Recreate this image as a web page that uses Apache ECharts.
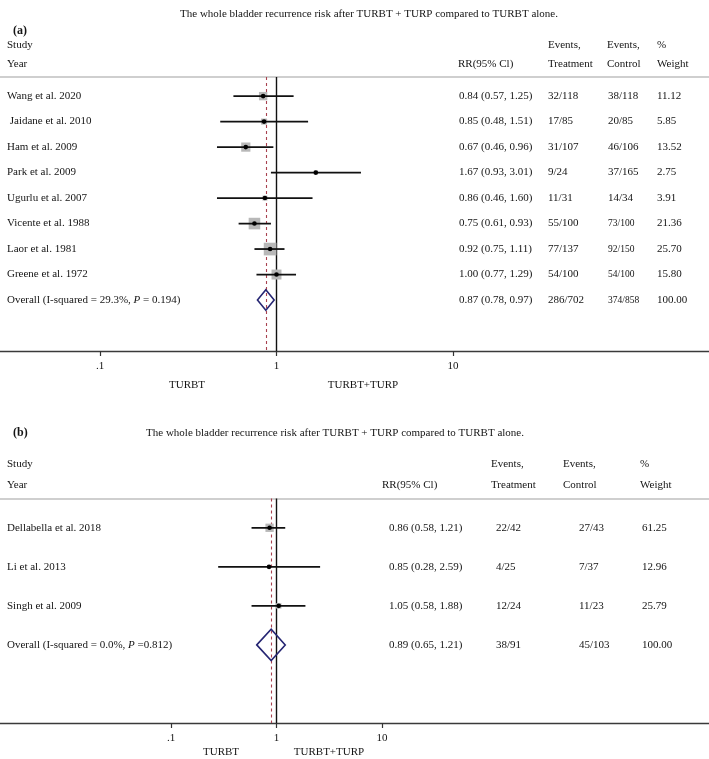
<!DOCTYPE html>
<html>
<head>
<meta charset="utf-8">
<script src="https://cdn.jsdelivr.net/npm/echarts@6/dist/echarts.min.js"></script>
<style>html,body{margin:0;padding:0;background:#fff;}#c{width:709px;height:759px;}</style>
</head>
<body>
<div id="c"></div>
<script>
// ---------- DATA ----------
const titleText = 'The whole bladder recurrence risk after TURBT + TURP compared to TURBT alone.';
const tickLabels = ['.1', '1', '10'];

// Panel (a)
const studiesA = ['Wang et al. 2020', ' Jaidane et al. 2010', 'Ham et al. 2009', 'Park et al. 2009', 'Ugurlu et al. 2007', 'Vicente et al. 1988', 'Laor et al. 1981', 'Greene et al. 1972'];
const rrA = [0.84, 0.85, 0.67, 1.67, 0.86, 0.75, 0.92, 1.00];
const loA = [0.57, 0.48, 0.46, 0.93, 0.46, 0.61, 0.75, 0.77];
const hiA = [1.25, 1.51, 0.96, 3.01, 1.60, 0.93, 1.11, 1.29];
const evTreatA = ['32/118', '17/85', '31/107', '9/24', '11/31', '55/100', '77/137', '54/100'];
const evCtrlA = ['38/118', '20/85', '46/106', '37/165', '14/34', '73/100', '92/150', '54/100'];
const weightA = [11.12, 5.85, 13.52, 2.75, 3.91, 21.36, 25.70, 15.80];
const overallLabelA = 'Overall (I-squared = 29.3%, {i|P} = 0.194)';
const overallA = [0.87, 0.78, 0.97];
const overallEvA = ['286/702', '374/858'];
const overallWeightA = 100;

// Panel (b)
const studiesB = ['Dellabella et al. 2018', 'Li et al. 2013', 'Singh et al. 2009'];
const rrB = [0.86, 0.85, 1.05];
const loB = [0.58, 0.28, 0.58];
const hiB = [1.21, 2.59, 1.88];
const evTreatB = ['22/42', '4/25', '12/24'];
const evCtrlB = ['27/43', '7/37', '11/23'];
const weightB = [61.25, 12.96, 25.79];
const overallLabelB = 'Overall (I-squared = 0.0%, {i|P} =0.812)';
const overallB = [0.89, 0.65, 1.21];
const overallEvB = ['38/91', '45/103'];
const overallWeightB = 100;

// ---------- STYLE / LAYOUT ----------
const FONT = '"Liberation Serif", "DejaVu Serif", serif';
const TXT = '#141414';
const W = 709, H = 759;

const panels = [
  {
    tag: '(a)', tagX: 13, tagY: 31, titleX: 369, titleY: 14,
    studyY: 45, yearY: 64,
    hdr: {rr: 458, tr: 548, ct: 607, wt: 657},
    col: {rr: 459, tr: 548, ct: 608, wt: 657},
    smallCtrl: [5, 6, 7, 8],
    top: 77, axisY: 351, x01: 100, x10: 453, yMax: 10,
    maxBox: 12.7, tickMargin: 10,
    lab1X: 187, lab2X: 363, labY: 385,
    studies: studiesA, rr: rrA, lo: loA, hi: hiA, evT: evTreatA, evC: evCtrlA, w: weightA,
    ovLabel: overallLabelA, ov: overallA, ovEv: overallEvA, ovW: overallWeightA
  },
  {
    tag: '(b)', tagX: 13, tagY: 433, titleX: 335, titleY: 433,
    studyY: 464, yearY: 485,
    hdr: {rr: 382, tr: 491, ct: 563, wt: 640},
    col: {rr: 389, tr: 496, ct: 579, wt: 642},
    smallCtrl: [],
    top: 498.5, axisY: 723, x01: 171, x10: 382, yMax: 5,
    maxBox: 8.3, tickMargin: 10,
    lab1X: 221, lab2X: 329, labY: 752,
    studies: studiesB, rr: rrB, lo: loB, hi: hiB, evT: evTreatB, evC: evCtrlB, w: weightB,
    ovLabel: overallLabelB, ov: overallB, ovEv: overallEvB, ovW: overallWeightB
  }
];

const grid = [], xAxis = [], yAxis = [], series = [], graphic = [];

function txt(x, y, text, opts) {
  opts = opts || {};
  return {
    type: 'text', x: x, y: y, silent: true,
    style: Object.assign({
      text: text, fontFamily: FONT, fontSize: 11, fill: TXT,
      align: 'left', verticalAlign: 'middle'
    }, opts)
  };
}

panels.forEach(function (p, k) {
  const gPlot = grid.length;
  grid.push({left: p.x01, right: W - p.x10, top: p.top, bottom: H - p.axisY});
  const gFull = grid.length;
  grid.push({left: 0, right: 0, top: p.top, bottom: H - p.axisY});

  // plot axes (log scale)
  const xPlot = xAxis.length;
  xAxis.push({
    gridIndex: gPlot, type: 'log', logBase: 10, min: 0.1, max: 10, position: 'bottom',
    axisLine: {show: false, onZero: false},
    axisTick: {show: true, length: 5, lineStyle: {color: '#333', width: 1.2}},
    splitLine: {show: false},
    axisLabel: {
      margin: p.tickMargin, fontFamily: FONT, fontSize: 11, color: TXT,
      formatter: function (v) {
        const e = Math.round(Math.log10(v));
        return tickLabels[e + 1];
      }
    }
  });
  const yPlot = yAxis.length;
  yAxis.push({gridIndex: gPlot, type: 'value', inverse: true, min: -0.75, max: p.yMax, show: false});

  // full-width frame axes: bottom axis line + top header line
  xAxis.push({gridIndex: gFull, type: 'value', min: 0, max: 1, position: 'bottom',
    axisLine: {show: true, onZero: false, lineStyle: {color: '#3a3a3a', width: 1.3}},
    axisTick: {show: false}, axisLabel: {show: false}, splitLine: {show: false}});
  xAxis.push({gridIndex: gFull, type: 'value', min: 0, max: 1, position: 'top',
    axisLine: {show: true, onZero: false, lineStyle: {color: '#cfcfcf', width: 2}},
    axisTick: {show: false}, axisLabel: {show: false}, splitLine: {show: false}});
  yAxis.push({gridIndex: gFull, type: 'value', min: 0, max: 1, show: false});

  // study data
  const maxW = Math.max.apply(null, p.w);
  const studyData = p.studies.map(function (s, i) { return [i, p.rr[i], p.lo[i], p.hi[i], p.w[i]]; });
  const nS = p.studies.length;

  series.push({
    type: 'custom', xAxisIndex: xPlot, yAxisIndex: yPlot,
    encode: {x: [1, 2, 3], y: 0},
    data: studyData, silent: true, z: 5,
    renderItem: function (params, api) {
      const i = api.value(0);
      const c = api.coord([api.value(1), i]);
      const a = api.coord([api.value(2), i]);
      const b = api.coord([api.value(3), i]);
      const s = p.maxBox * Math.sqrt(api.value(4) / maxW);
      return {type: 'group', children: [
        {type: 'rect', shape: {x: c[0] - s / 2, y: c[1] - s / 2, width: s, height: s}, style: {fill: '#b8b8b8'}},
        {type: 'line', shape: {x1: a[0], y1: c[1], x2: b[0], y2: c[1]}, style: {stroke: '#111', lineWidth: 1.8}},
        {type: 'circle', shape: {cx: c[0], cy: c[1], r: 2.3}, style: {fill: '#000'}}
      ]};
    },
    markLine: {
      silent: true, symbol: 'none', animation: false,
      label: {show: false},
      data: [
        {xAxis: 1, lineStyle: {color: '#111', width: 1.4, type: 'solid'}},
        {xAxis: p.ov[0], lineStyle: {color: '#a8424f', width: 1.1, type: [3, 3]}}
      ]
    }
  });

  // overall diamond
  series.push({
    type: 'custom', xAxisIndex: xPlot, yAxisIndex: yPlot,
    encode: {x: [1, 2, 3], y: 0},
    data: [[nS, p.ov[0], p.ov[1], p.ov[2]]], silent: true, z: 6,
    renderItem: function (params, api) {
      const i = api.value(0);
      const c = api.coord([api.value(1), i]);
      const a = api.coord([api.value(2), i]);
      const b = api.coord([api.value(3), i]);
      const h = api.size([0, 0.4])[1];
      return {type: 'polygon', shape: {points: [[a[0], c[1]], [c[0], c[1] - h], [b[0], c[1]], [c[0], c[1] + h]]},
        style: {fill: 'none', stroke: '#262673', lineWidth: 1.6}};
    }
  });

  // text columns for each row
  const rowsData = p.studies.map(function (s, i) { return [i]; }).concat([[nS]]);
  series.push({
    type: 'custom', xAxisIndex: xPlot, yAxisIndex: yPlot,
    encode: {y: 0}, data: rowsData, silent: true, z: 7, clip: false,
    renderItem: function (params, api) {
      const i = api.value(0);
      const y = api.coord([1, i])[1];
      let label, rr, lo, hi, et, ec, w;
      if (i < nS) {
        label = p.studies[i]; rr = p.rr[i]; lo = p.lo[i]; hi = p.hi[i];
        et = p.evT[i]; ec = p.evC[i]; w = p.w[i];
      } else {
        label = p.ovLabel; rr = p.ov[0]; lo = p.ov[1]; hi = p.ov[2];
        et = p.ovEv[0]; ec = p.ovEv[1]; w = p.ovW;
      }
      const small = p.smallCtrl.indexOf(i) >= 0;
      return {type: 'group', children: [
        txt(7, y, label, {rich: {i: {fontStyle: 'italic', fontFamily: FONT, fontSize: 11, fill: TXT}}}),
        txt(p.col.rr, y, rr.toFixed(2) + ' (' + lo.toFixed(2) + ', ' + hi.toFixed(2) + ')'),
        txt(p.col.tr, y, et),
        txt(p.col.ct, y, ec, small ? {fontSize: 9.5} : {}),
        txt(p.col.wt, y, w.toFixed(2))
      ]};
    }
  });

  // headers and titles
  graphic.push(txt(p.titleX, p.titleY, titleText, {align: 'center'}));
  graphic.push(txt(p.tagX, p.tagY, p.tag, {fontWeight: 'bold', fontSize: 12}));
  graphic.push(txt(7, p.studyY, 'Study'));
  graphic.push(txt(7, p.yearY, 'Year'));
  graphic.push(txt(p.hdr.rr, p.yearY, 'RR(95% Cl)'));
  graphic.push(txt(p.hdr.tr, p.studyY, 'Events,'));
  graphic.push(txt(p.hdr.tr, p.yearY, 'Treatment'));
  graphic.push(txt(p.hdr.ct, p.studyY, 'Events,'));
  graphic.push(txt(p.hdr.ct, p.yearY, 'Control'));
  graphic.push(txt(p.hdr.wt, p.studyY, '%'));
  graphic.push(txt(p.hdr.wt, p.yearY, 'Weight'));
  graphic.push(txt(p.lab1X, p.labY, 'TURBT', {align: 'center'}));
  graphic.push(txt(p.lab2X, p.labY, 'TURBT+TURP', {align: 'center'}));
});

const chart = echarts.init(document.getElementById('c'), null, {renderer: 'canvas'});
chart.setOption({
  animation: false,
  backgroundColor: '#fff',
  grid: grid, xAxis: xAxis, yAxis: yAxis, series: series,
  graphic: {elements: graphic}
});
</script>
</body>
</html>
